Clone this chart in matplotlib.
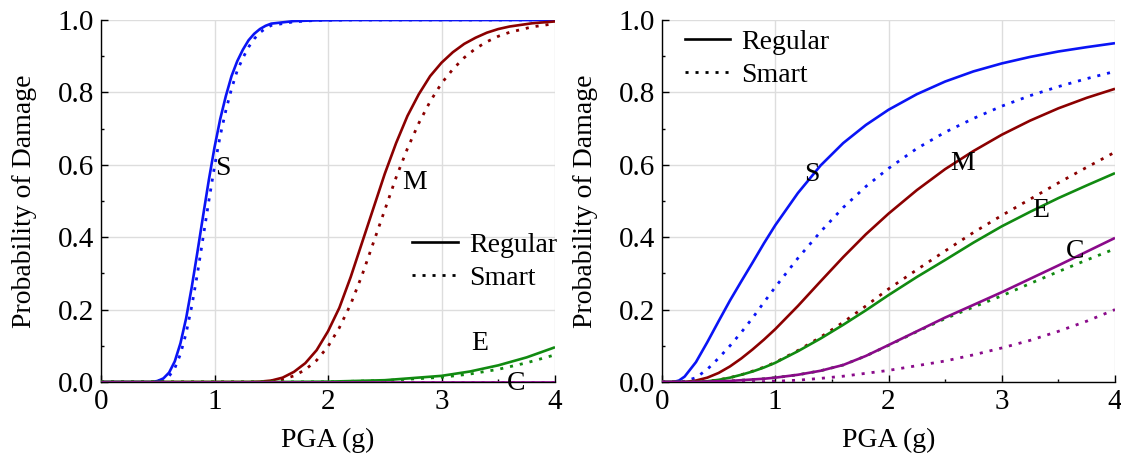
import matplotlib
matplotlib.use("Agg")
import matplotlib.pyplot as plt
from matplotlib.lines import Line2D
from matplotlib.ticker import MultipleLocator

plt.rcParams['font.family'] = ['Liberation Serif', 'DejaVu Serif']
plt.rcParams['font.size'] = 20

# colours of the four damage states
colors = {'S': '#0a14f5', 'M': '#8b0000', 'E': '#118a11', 'C': '#8a0a8a'}
dotted = (0, (1.1, 2.5))

# ---------------- left panel ----------------
pga_l_s = [0, 0.45, 0.5, 0.55, 0.6, 0.65, 0.7, 0.75, 0.8, 0.85, 0.9, 0.95, 1.0, 1.05,
           1.1, 1.15, 1.2, 1.25, 1.3, 1.35, 1.4, 1.45, 1.5, 1.7, 1.9, 2.2, 4.0]
left_s_reg = [0, 0, 0.003, 0.01, 0.026, 0.057, 0.107, 0.176, 0.263, 0.36, 0.46, 0.558, 0.648,
              0.726, 0.79, 0.845, 0.886, 0.918, 0.944, 0.962, 0.975, 0.984, 0.99, 0.997, 0.999, 1.0, 1.0]
left_s_smart = [0, 0, 0.001, 0.005, 0.016, 0.038, 0.077, 0.135, 0.21, 0.30, 0.40, 0.50, 0.595,
                0.68, 0.75, 0.81, 0.86, 0.895, 0.925, 0.948, 0.965, 0.977, 0.985, 0.995, 0.999, 1.0, 1.0]

pga_l_m = [0, 1.3, 1.4, 1.5, 1.6, 1.7, 1.8, 1.9, 2.0, 2.1, 2.2, 2.3, 2.4, 2.5, 2.6, 2.7, 2.8,
           2.9, 3.0, 3.1, 3.2, 3.3, 3.4, 3.5, 3.6, 3.8, 4.0]
left_m_reg = [0, 0, 0.001, 0.004, 0.012, 0.028, 0.052, 0.088, 0.14, 0.205, 0.29, 0.385, 0.48,
              0.575, 0.66, 0.735, 0.795, 0.845, 0.882, 0.911, 0.934, 0.951, 0.965, 0.975,
              0.982, 0.991, 0.996]
left_m_smart = [0, 0, 0, 0.002, 0.007, 0.017, 0.034, 0.06, 0.098, 0.15, 0.215, 0.295, 0.385,
                0.475, 0.565, 0.645, 0.715, 0.775, 0.825, 0.864, 0.896, 0.921, 0.94, 0.955,
                0.966, 0.981, 0.99]

pga_l_e = [0, 1.5, 2.0, 2.5, 3.0, 3.25, 3.5, 3.75, 4.0]
left_e_reg = [0, 0, 0.001, 0.005, 0.017, 0.029, 0.046, 0.068, 0.096]
left_e_smart = [0, 0, 0.0005, 0.004, 0.013, 0.022, 0.035, 0.053, 0.075]

pga_l_c = [0, 4.0]
left_c_reg = [0, 0]
left_c_smart = [0, 0]

# ---------------- right panel ----------------
pga_r = [0, 0.1, 0.15, 0.2, 0.3, 0.4, 0.5, 0.6, 0.7, 0.8, 0.9, 1.0, 1.2, 1.4, 1.6, 1.8, 2.0,
         2.25, 2.5, 2.75, 3.0, 3.25, 3.5, 3.75, 4.0]
right_s_reg = [0, 0, 0.004, 0.015, 0.055, 0.11, 0.168, 0.225, 0.278, 0.33, 0.383, 0.433, 0.522,
               0.598, 0.66, 0.71, 0.752, 0.795, 0.83, 0.858, 0.88, 0.898, 0.913, 0.925, 0.936]
right_s_smart = [0, 0, 0, 0.002, 0.012, 0.035, 0.066, 0.10, 0.137, 0.177, 0.22, 0.262, 0.342,
                 0.415, 0.482, 0.54, 0.59, 0.645, 0.69, 0.728, 0.762, 0.791, 0.816, 0.838, 0.858]
right_m_reg = [0, 0, 0, 0, 0.004, 0.012, 0.025, 0.043, 0.065, 0.09, 0.117, 0.146, 0.21, 0.278,
               0.345, 0.408, 0.465, 0.53, 0.588, 0.638, 0.683, 0.722, 0.756, 0.785, 0.81]
right_m_smart = [0, 0, 0, 0, 0, 0.002, 0.006, 0.012, 0.02, 0.03, 0.041, 0.054, 0.087, 0.124,
                 0.165, 0.21, 0.257, 0.31, 0.362, 0.413, 0.46, 0.505, 0.55, 0.593, 0.635]
right_e_reg = [0, 0, 0, 0, 0, 0.002, 0.006, 0.012, 0.02, 0.029, 0.04, 0.053, 0.085, 0.12,
               0.158, 0.198, 0.24, 0.29, 0.337, 0.385, 0.43, 0.47, 0.508, 0.543, 0.577]
right_e_smart = [0, 0, 0, 0, 0, 0.001, 0.002, 0.003, 0.005, 0.007, 0.009, 0.012, 0.02, 0.031,
                 0.047, 0.072, 0.101, 0.139, 0.175, 0.207, 0.238, 0.272, 0.305, 0.337, 0.368]
right_c_reg = [0, 0, 0, 0, 0, 0.001, 0.002, 0.003, 0.005, 0.007, 0.009, 0.012, 0.02, 0.031,
               0.047, 0.072, 0.102, 0.14, 0.178, 0.213, 0.248, 0.285, 0.322, 0.36, 0.398]
right_c_smart = [0, 0, 0, 0, 0, 0, 0, 0, 0, 0, 0.001, 0.002, 0.005, 0.01, 0.016, 0.024, 0.032,
                 0.045, 0.058, 0.075, 0.094, 0.115, 0.14, 0.168, 0.2]

left_series = [
    ('S', pga_l_s, left_s_reg, left_s_smart),
    ('M', pga_l_m, left_m_reg, left_m_smart),
    ('E', pga_l_e, left_e_reg, left_e_smart),
    ('C', pga_l_c, left_c_reg, left_c_smart),
]
right_series = [
    ('S', pga_r, right_s_reg, right_s_smart),
    ('M', pga_r, right_m_reg, right_m_smart),
    ('E', pga_r, right_e_reg, right_e_smart),
    ('C', pga_r, right_c_reg, right_c_smart),
]

# label positions (data coords) and legend anchor
left_labels = {'S': (1.07, 0.59), 'M': (2.76, 0.55), 'E': (3.34, 0.107), 'C': (3.66, -0.003)}
right_labels = {'S': (1.32, 0.572), 'M': (2.65, 0.604), 'E': (3.34, 0.474), 'C': (3.65, 0.36)}
left_legend_at = (2.74, 0.333)
right_legend_at = (0.2, 0.893)

fig = plt.figure(figsize=(11.21, 4.58), dpi=100)
ax1 = fig.add_axes([101 / 1121, 76 / 458, 454 / 1121, 362 / 458])
ax2 = fig.add_axes([662 / 1121, 76 / 458, 453 / 1121, 362 / 458])


def draw_panel(ax, series, labels, legend_at):
    for key, x, reg, smart in series:
        ax.plot(x, reg, color=colors[key], lw=1.9, solid_capstyle='butt', zorder=3)
        ax.plot(x, smart, color=colors[key], lw=2.0, linestyle=dotted, zorder=3)
    for key, (lx, ly) in labels.items():
        ax.text(lx, ly, key, ha='center', va='center', zorder=4)

    ax.set_xlim(0, 4)
    ax.set_ylim(0, 1)
    ax.xaxis.set_major_locator(MultipleLocator(1))
    ax.xaxis.set_minor_locator(MultipleLocator(0.5))
    ax.yaxis.set_major_locator(MultipleLocator(0.2))
    ax.yaxis.set_minor_locator(MultipleLocator(0.1))
    ax.set_yticklabels([f'{v:.1f}' for v in ax.get_yticks()])
    ax.tick_params(which='both', direction='in', top=False, right=False, width=1)
    ax.tick_params(which='major', length=5, pad=5, labelsize=21)
    ax.tick_params(which='minor', length=2)
    ax.grid(True, which='major', color='#dddddd', lw=1)
    ax.set_axisbelow(True)
    for side in ['top', 'right']:
        ax.spines[side].set_visible(False)
    for side in ['left', 'bottom']:
        ax.spines[side].set_linewidth(1.0)
    ax.set_xlabel('PGA (g)', fontsize=20, labelpad=9)
    ax.set_ylabel('Probability of Damage', fontsize=20, labelpad=15)

    handles = [Line2D([], [], color='black', lw=1.9),
               Line2D([], [], color='black', lw=2.0, linestyle=dotted)]
    ax.legend(handles, ['Regular', 'Smart'], loc='center left', bbox_to_anchor=legend_at,
              bbox_transform=ax.transData, frameon=False, fontsize=20, handlelength=1.65,
              handletextpad=0.4, labelspacing=0.28, borderpad=0, borderaxespad=0)


draw_panel(ax1, left_series, left_labels, left_legend_at)
draw_panel(ax2, right_series, right_labels, right_legend_at)

fig.savefig('out.png', dpi=100)
